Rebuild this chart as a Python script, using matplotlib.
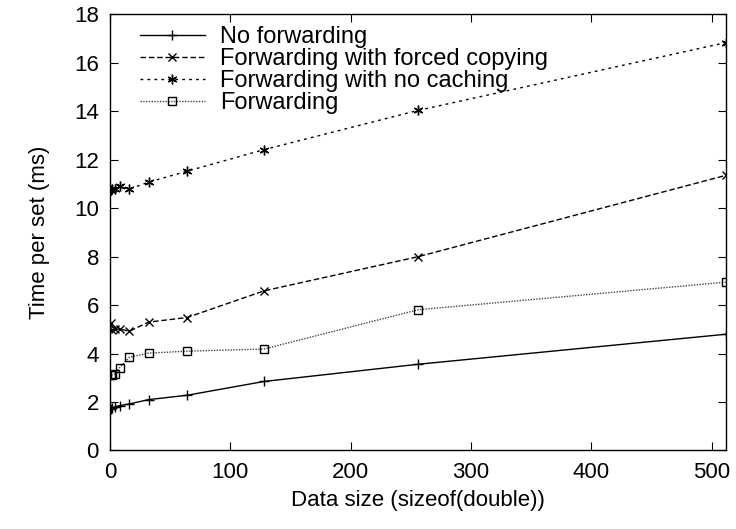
import matplotlib
matplotlib.use("Agg")
import matplotlib.pyplot as plt

plt.rcParams['font.family'] = ['Liberation Sans', 'DejaVu Sans']

sizes = [1, 2, 4, 8, 16, 32, 64, 128, 256, 512]
no_fwd = [1.72, 1.75, 1.8, 1.85, 1.92, 2.1, 2.28, 2.85, 3.56, 4.8]
forced = [5.26, 4.98, 5.0, 5.02, 4.92, 5.3, 5.49, 6.59, 8.0, 11.36]
no_cache = [10.76, 10.8, 10.78, 10.9, 10.79, 11.08, 11.53, 12.42, 14.04, 16.84]
fwd = [3.12, 3.12, 3.15, 3.42, 3.85, 4.02, 4.1, 4.19, 5.81, 6.95]
labels = ["No forwarding", "Forwarding with forced copying",
          "Forwarding with no caching", "Forwarding"]

fig = plt.figure(figsize=(7.36, 5.29), dpi=100)
ax = fig.add_axes([0.1495, 0.1484, 0.8369, 0.8242])

ax.plot(sizes, no_fwd, color='black', lw=1, marker='+', ms=7, mew=1, label=labels[0])
ax.plot(sizes, forced, color='black', lw=1, ls=(0, (4, 2)), marker='x', ms=6, mew=1, label=labels[1])
ax.plot(sizes, no_cache, color='black', lw=1, ls=(0, (2, 3)), marker=(6, 2, 0), ms=7, mew=1, label=labels[2])
ax.plot(sizes, fwd, color='#444444', lw=1, ls=(0, (1, 1)), marker='s', ms=6, mew=1,
        mfc='none', mec='black', label=labels[3])

ax.set_xlim(0, 512)
ax.set_ylim(0, 18)
ax.set_xticks(range(0, 501, 100))
ax.set_yticks(range(0, 19, 2))
ax.tick_params(direction='in', top=True, right=True, length=6, labelsize=16, pad=8)
for s in ax.spines.values():
    s.set_linewidth(1)
ax.set_xlabel("Data size (sizeof(double))", fontsize=16, labelpad=5)
ax.set_ylabel("Time per set (ms)", fontsize=16, labelpad=17)

ax.legend(loc='upper left', frameon=False, fontsize=17, handlelength=2.75,
          handletextpad=0.65, labelspacing=0.0, borderpad=0, borderaxespad=0,
          bbox_to_anchor=(30 / 616, 1 - 12 / 436))

fig.savefig("out.png", dpi=100)
